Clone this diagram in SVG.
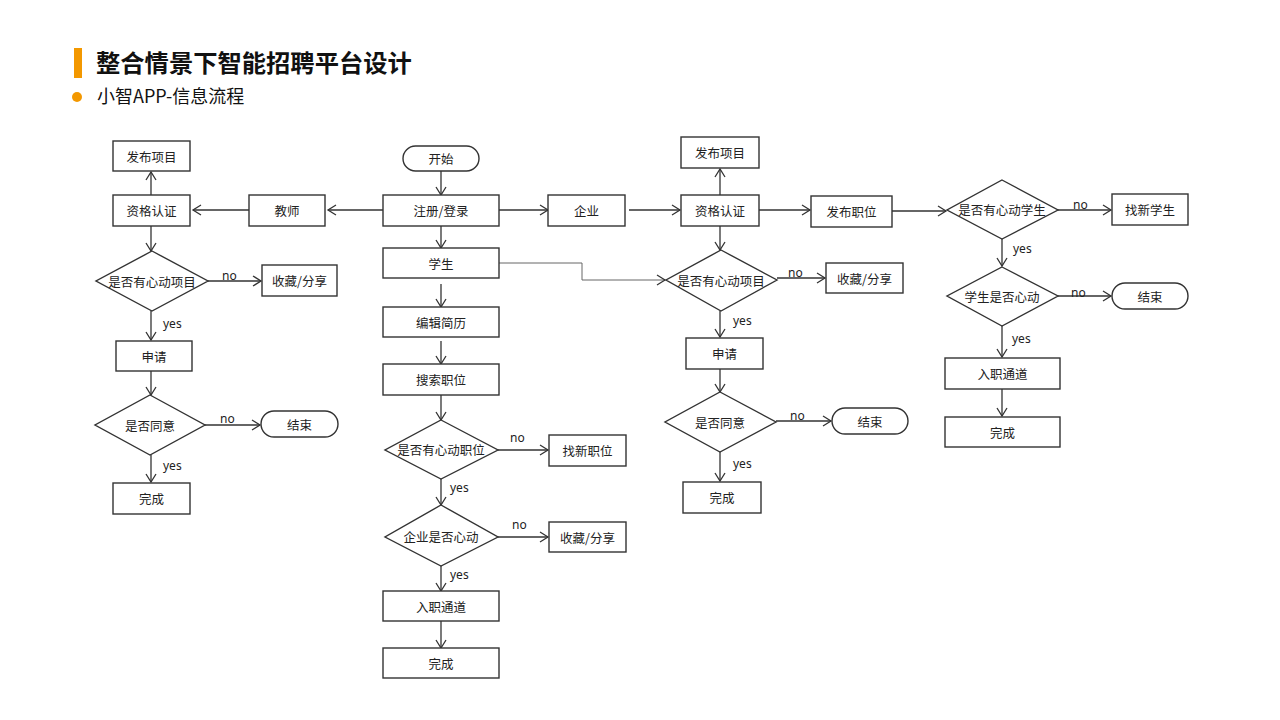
<svg xmlns="http://www.w3.org/2000/svg" width="1280" height="720" viewBox="0 0 1280 720">
<style>
.n rect,.n polygon{fill:#fff;stroke:#333;stroke-width:1.4}
.t{font-family:"Noto Sans CJK SC","Noto Sans",sans-serif;font-size:12.5px;fill:#222;text-anchor:middle;dominant-baseline:central}
.l{font-family:"Noto Sans","Liberation Sans",sans-serif;font-size:12px;fill:#222}
.c line,.c polyline{fill:none;stroke:#333;stroke-width:1.3;marker-end:url(#a)}
.c .g{stroke:#666;stroke-width:1}
</style>
<defs>
<marker id="a" markerUnits="userSpaceOnUse" markerWidth="12" markerHeight="12" refX="9" refY="6" orient="auto">
<path d="M1,1 L9,6 L1,11" fill="none" stroke="#333" stroke-width="1.3"/>
</marker>
</defs>
<rect width="1280" height="720" fill="#fff"/>
<g id="header">
<rect x="74" y="48" width="8" height="30" fill="#f39800"/>
<text x="96" y="72" font-family="'Noto Sans CJK SC',sans-serif" font-weight="bold" font-size="24.3" fill="#111">整合情景下智能招聘平台设计</text>
<circle cx="77" cy="97" r="5" fill="#f39800"/>
<text x="97" y="103" font-family="'Noto Sans CJK SC',sans-serif" font-size="18" fill="#111">小智APP-信息流程</text>
</g>
<g class="c" id="connectors">
<line x1="441" y1="171" x2="441" y2="195"/>
<line x1="383" y1="210" x2="328" y2="210"/>
<line x1="249" y1="210" x2="193" y2="210"/>
<line x1="151" y1="195" x2="151" y2="172"/>
<line x1="151" y1="226" x2="151" y2="251"/>
<line x1="208" y1="281" x2="261" y2="281"/>
<line x1="151" y1="311" x2="151" y2="340"/>
<line x1="151" y1="371" x2="151" y2="395"/>
<line x1="205" y1="425" x2="260" y2="425"/>
<line x1="151" y1="455" x2="151" y2="482"/>
<line x1="441" y1="226" x2="441" y2="248"/>
<line x1="441" y1="284" x2="441" y2="307"/>
<line x1="441" y1="341" x2="441" y2="364"/>
<line x1="441" y1="395" x2="441" y2="420"/>
<line x1="498" y1="450" x2="548" y2="450"/>
<line x1="441" y1="479" x2="441" y2="505"/>
<line x1="498" y1="537" x2="548" y2="537"/>
<line x1="441" y1="566" x2="441" y2="591"/>
<line x1="441" y1="621" x2="441" y2="648"/>
<line x1="499" y1="210" x2="548" y2="210"/>
<line x1="629" y1="210" x2="680" y2="210"/>
<line x1="720" y1="195" x2="720" y2="169"/>
<line x1="759" y1="210" x2="810" y2="210"/>
<line x1="720" y1="226" x2="720" y2="250"/>
<polyline class="g" points="499,263 582,263 582,280 665,280"/>
<line x1="777" y1="278" x2="825" y2="278"/>
<line x1="720" y1="311" x2="720" y2="337"/>
<line x1="720" y1="369" x2="720" y2="392"/>
<line x1="776" y1="421" x2="831" y2="421"/>
<line x1="720" y1="452" x2="720" y2="481"/>
<line x1="892" y1="211" x2="946" y2="211"/>
<line x1="1058" y1="210" x2="1111" y2="210"/>
<line x1="1002" y1="239" x2="1002" y2="266"/>
<line x1="1058" y1="296" x2="1111" y2="296"/>
<line x1="1002" y1="326" x2="1002" y2="357"/>
<line x1="1002" y1="389" x2="1002" y2="416"/>
</g>
<g id="labels">
<text class="l" x="222" y="280">no</text>
<text class="l" x="163" y="328">yes</text>
<text class="l" x="220" y="423">no</text>
<text class="l" x="163" y="470">yes</text>
<text class="l" x="510" y="442">no</text>
<text class="l" x="450" y="492">yes</text>
<text class="l" x="512" y="529">no</text>
<text class="l" x="450" y="579">yes</text>
<text class="l" x="788" y="277">no</text>
<text class="l" x="733" y="325">yes</text>
<text class="l" x="790" y="420">no</text>
<text class="l" x="733" y="468">yes</text>
<text class="l" x="1073" y="209">no</text>
<text class="l" x="1013" y="253">yes</text>
<text class="l" x="1071" y="297">no</text>
<text class="l" x="1012" y="343">yes</text>
</g>
<g class="n" id="t_fabu1"><rect x="113" y="141" width="77" height="30"/><text class="t" x="151.5" y="156">发布项目</text></g>
<g class="n" id="t_zige1"><rect x="113" y="195" width="77" height="31"/><text class="t" x="151.5" y="210.5">资格认证</text></g>
<g class="n" id="teacher"><rect x="249" y="195" width="76" height="31"/><text class="t" x="287" y="210.5">教师</text></g>
<g class="n" id="t_d1"><polygon points="152,251 208,281 152,311 96,281"/><text class="t" x="152" y="281">是否有心动项目</text></g>
<g class="n" id="t_fav"><rect x="262" y="265" width="75" height="31"/><text class="t" x="299.5" y="280.5">收藏/分享</text></g>
<g class="n" id="t_apply"><rect x="116" y="341" width="76" height="30"/><text class="t" x="154" y="356">申请</text></g>
<g class="n" id="t_d2"><polygon points="150,395 205,425 150,455 95,425"/><text class="t" x="150" y="425">是否同意</text></g>
<g class="n" id="t_end"><rect x="261" y="411" width="77" height="26" rx="13"/><text class="t" x="299.5" y="424">结束</text></g>
<g class="n" id="t_done"><rect x="113" y="483" width="77" height="31"/><text class="t" x="151.5" y="498.5">完成</text></g>
<g class="n" id="start"><rect x="403" y="146" width="76" height="25" rx="12.5"/><text class="t" x="441" y="158.5">开始</text></g>
<g class="n" id="register"><rect x="383" y="195" width="116" height="31"/><text class="t" x="441" y="210.5">注册/登录</text></g>
<g class="n" id="student"><rect x="383" y="248" width="116" height="30"/><text class="t" x="441" y="263">学生</text></g>
<g class="n" id="s_resume"><rect x="383" y="307" width="116" height="30"/><text class="t" x="441" y="322">编辑简历</text></g>
<g class="n" id="s_search"><rect x="383" y="364" width="116" height="31"/><text class="t" x="441" y="379.5">搜索职位</text></g>
<g class="n" id="s_d1"><polygon points="441,420 498,450 441,479 385,450"/><text class="t" x="441" y="449.5">是否有心动职位</text></g>
<g class="n" id="s_new"><rect x="549" y="435" width="77" height="31"/><text class="t" x="587.5" y="450.5">找新职位</text></g>
<g class="n" id="s_d2"><polygon points="441,505 498,537 441,566 385,537"/><text class="t" x="441" y="536">企业是否心动</text></g>
<g class="n" id="s_fav"><rect x="549" y="522" width="77" height="30"/><text class="t" x="587.5" y="537">收藏/分享</text></g>
<g class="n" id="s_entry"><rect x="383" y="591" width="116" height="30"/><text class="t" x="441" y="606">入职通道</text></g>
<g class="n" id="s_done"><rect x="383" y="648" width="116" height="30"/><text class="t" x="441" y="663">完成</text></g>
<g class="n" id="company"><rect x="548" y="195" width="77" height="31"/><text class="t" x="586.5" y="210.5">企业</text></g>
<g class="n" id="c_fabu"><rect x="681" y="137" width="78" height="31"/><text class="t" x="720" y="152.5">发布项目</text></g>
<g class="n" id="c_zige"><rect x="681" y="195" width="78" height="31"/><text class="t" x="720" y="210.5">资格认证</text></g>
<g class="n" id="c_post"><rect x="811" y="196" width="81" height="31"/><text class="t" x="851.5" y="211.5">发布职位</text></g>
<g class="n" id="c_d1"><polygon points="721,250 777,280 721,311 666,280"/><text class="t" x="721" y="280">是否有心动项目</text></g>
<g class="n" id="c_fav"><rect x="826" y="263" width="77" height="30"/><text class="t" x="864.5" y="278">收藏/分享</text></g>
<g class="n" id="c_apply"><rect x="686" y="338" width="77" height="31"/><text class="t" x="724.5" y="353.5">申请</text></g>
<g class="n" id="c_d2"><polygon points="720,392 776,422 720,452 665,422"/><text class="t" x="720" y="422">是否同意</text></g>
<g class="n" id="c_end"><rect x="832" y="408" width="76" height="26" rx="13"/><text class="t" x="870" y="421">结束</text></g>
<g class="n" id="c_done"><rect x="683" y="482" width="78" height="31"/><text class="t" x="722" y="497.5">完成</text></g>
<g class="n" id="r_d1"><polygon points="1002,180 1058,210 1002,239 947,210"/><text class="t" x="1002" y="209.5">是否有心动学生</text></g>
<g class="n" id="r_new"><rect x="1112" y="194" width="76" height="31"/><text class="t" x="1150" y="209.5">找新学生</text></g>
<g class="n" id="r_d2"><polygon points="1002,267 1058,296 1002,326 947,296"/><text class="t" x="1002" y="296">学生是否心动</text></g>
<g class="n" id="r_end"><rect x="1112" y="283" width="76" height="26" rx="13"/><text class="t" x="1150" y="296">结束</text></g>
<g class="n" id="r_entry"><rect x="945" y="358" width="115" height="31"/><text class="t" x="1002.5" y="373.5">入职通道</text></g>
<g class="n" id="r_done"><rect x="945" y="417" width="115" height="30"/><text class="t" x="1002.5" y="432">完成</text></g>
</svg>
